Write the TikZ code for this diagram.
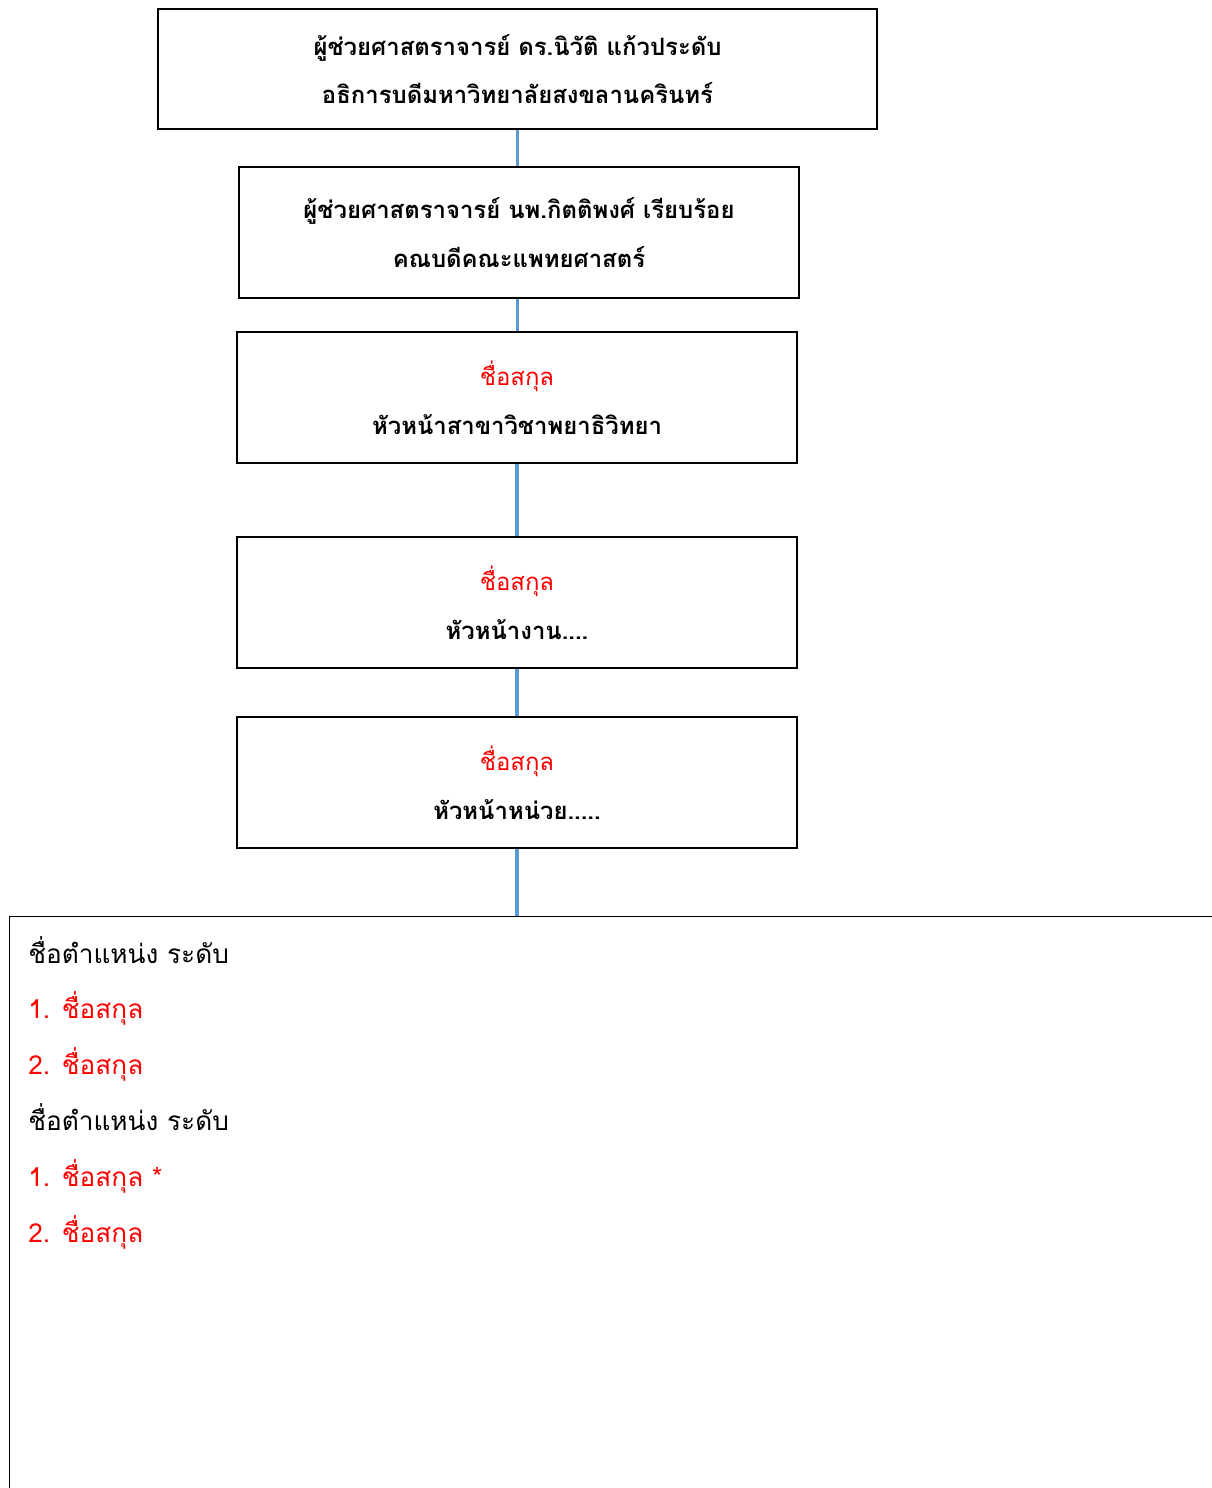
\documentclass[tikz,border=0pt]{standalone}
\usepackage{fontspec}
\newfontfamily\thaifont[Script=Thai]{Loma}
\definecolor{linkblue}{RGB}{91,155,213}
\tikzset{
  box/.style={draw, line width=0.8pt, align=center, inner sep=0pt,
    font=\thaifont\bfseries\fontsize{13.6}{27.8}\selectfont},
  link/.style={draw=linkblue, line width=2pt},
  entry/.style={anchor=base west, inner sep=0pt, font=\thaifont\fontsize{14.9}{17}\selectfont},
  redname/.style={text=red}
}
\begin{document}
\begin{tikzpicture}[x=0.02cm, y=-0.02cm]
\useasboundingbox (0,0) rectangle (1211,1488);
\node[box, minimum width=14.38cm, minimum height=2.4cm](1) at (517.5, 69)
  {ผู้ช่วยศาสตราจารย์ ดร.นิวัติ แก้วประดับ\\ อธิการบดีมหาวิทยาลัยสงขลานครินทร์};
\node[box, minimum width=11.2cm, minimum height=2.62cm](2) at (519, 232.5)
  {ผู้ช่วยศาสตราจารย์ นพ.กิตติพงศ์ เรียบร้อย\\ คณบดีคณะแพทยศาสตร์};
\node[box, minimum width=11.2cm, minimum height=2.62cm](3) at (517, 397.5)
  {{\mdseries\color{red}ชื่อสกุล}\\ หัวหน้าสาขาวิชาพยาธิวิทยา};
\node[box, minimum width=11.2cm, minimum height=2.62cm](4) at (517, 602.5)
  {{\mdseries\color{red}ชื่อสกุล}\\ หัวหน้างาน....};
\node[box, minimum width=11.2cm, minimum height=2.62cm](5) at (517, 782.5)
  {{\mdseries\color{red}ชื่อสกุล}\\ หัวหน้าหน่วย.....};
\node[draw, line width=0.8pt, anchor=north west, minimum width=24.6cm, minimum height=12.5cm](7) at (9, 916) {};
\node[entry](8) at (28, 963) {ชื่อตำแหน่ง ระดับ};
\node[entry, redname](9) at (28, 1018.5) {1. ชื่อสกุล};
\node[entry, redname](10) at (28, 1074.5) {2. ชื่อสกุล};
\node[entry](11) at (28, 1130) {ชื่อตำแหน่ง ระดับ};
\node[entry, redname](12) at (28, 1186) {1. ชื่อสกุล *};
\node[entry, redname](13) at (28, 1242) {2. ชื่อสกุล};
\draw[link] (1.south) -- (1.south |- 2.north);
\draw[link] (1.south |- 2.south) -- (1.south |- 3.north);
\draw[link] (3.south) -- (4.north);
\draw[link] (4.south) -- (5.north);
\draw[link] (5.south) -- (5.south |- 7.north);
\end{tikzpicture}
\end{document}
